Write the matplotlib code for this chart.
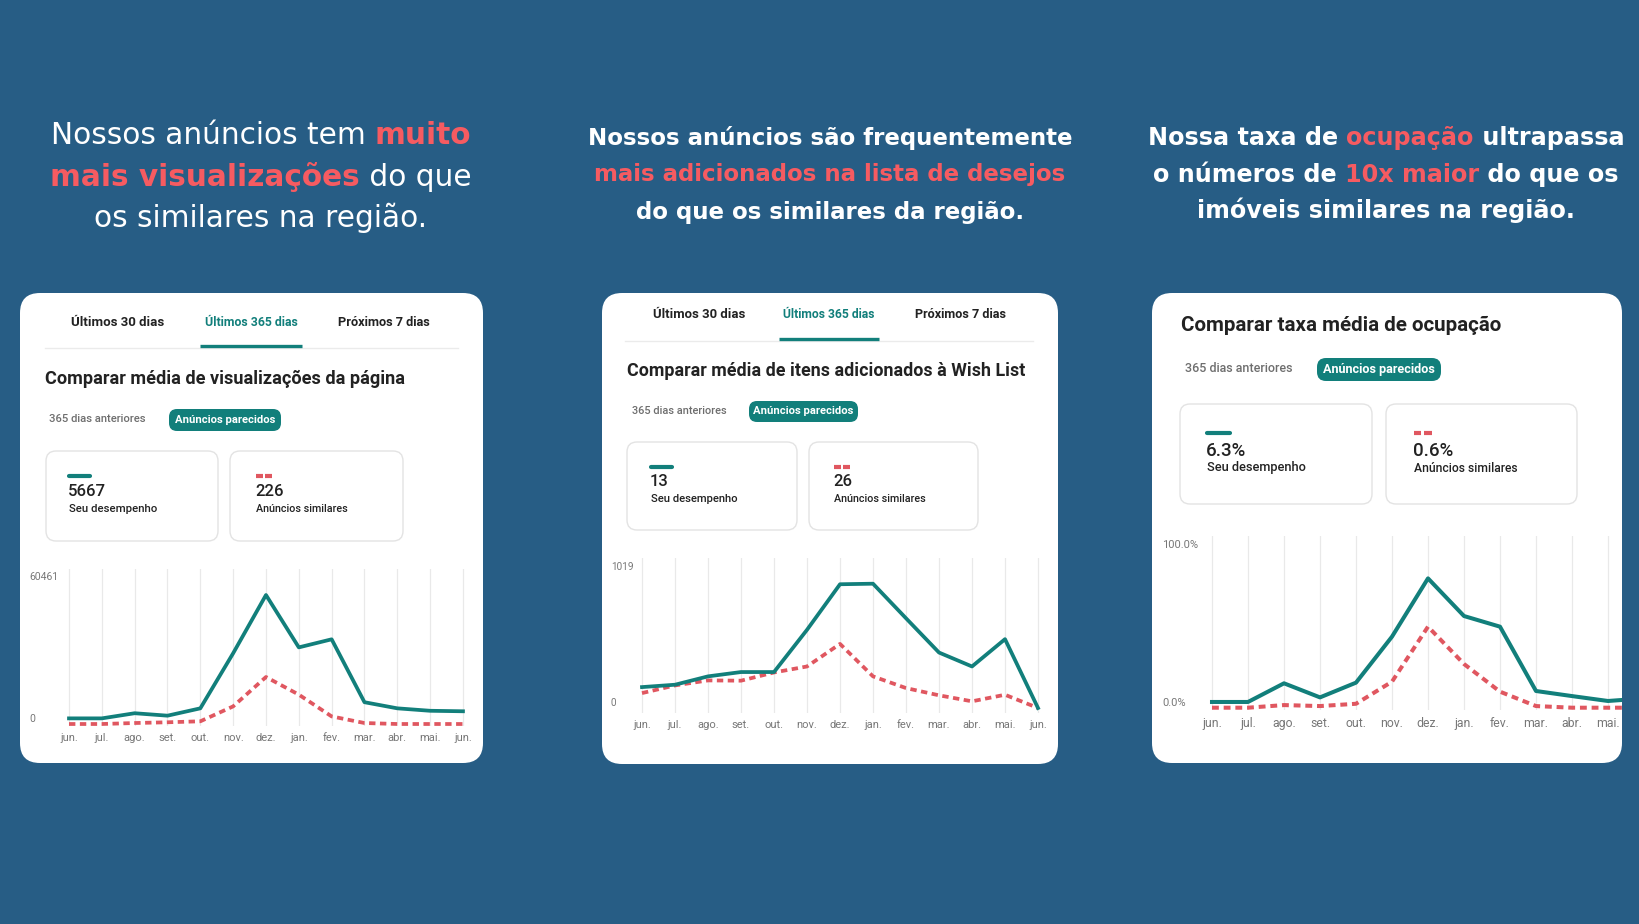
import matplotlib
matplotlib.use('Agg')
import matplotlib.pyplot as plt
from matplotlib.patches import FancyBboxPatch

W, H = 1640, 924
BG = '#275d85'
TEAL = '#127f7b'
RED = '#e05760'
CORAL = '#f65b61'
DARK = '#222222'
GRAY = '#6e6e6e'
HEAD_FONT = 'DejaVu Sans'
CARD_FONT = 'Roboto'

# rotulos do eixo x (meses)
meses = ['jun.', 'jul.', 'ago.', 'set.', 'out.', 'nov.', 'dez.',
         'jan.', 'fev.', 'mar.', 'abr.', 'mai.', 'jun.']

# visualizacoes da pagina
vis_seu = [2300, 2300, 4400, 3400, 6400, 28900, 52700, 31300, 34600, 8900, 6400, 5400, 5200]
vis_sim = [0, 0, 400, 700, 1100, 7200, 19200, 12000, 3100, 400, 0, 0, 0]
vis_max = 60461
vis_stats = ['5667', '226']

# itens adicionados a wish list
wish_seu = [150, 167, 227, 258, 258, 561, 888, 892, 644, 398, 298, 494, 0]
wish_sim = [107, 162, 198, 196, 255, 298, 460, 227, 143, 91, 48, 95, 0]
wish_max = 1019
wish_stats = ['13', '26']

# taxa de ocupacao (%)
ocup_seu = [3.5, 3.5, 14.9, 6.3, 15.3, 43.4, 79.0, 56.0, 49.5, 10.2, 7.1, 4.1, 5.7]
ocup_sim = [0, 0, 1.6, 1.0, 2.4, 15.9, 49.5, 26.7, 9.8, 1.0, 0, 0, 0]
ocup_max = 100
ocup_stats = ['6.3%', '0.6%']

tabs = ['Últimos 30 dias', 'Últimos 365 dias', 'Próximos 7 dias']

fig = plt.figure(figsize=(16.4, 9.24), dpi=100)
fig.patch.set_facecolor(BG)
bg = fig.add_axes([0, 0, 1, 1])
bg.set_xlim(0, W)
bg.set_ylim(H, 0)
bg.axis('off')
r = fig.canvas.get_renderer()


def text_w(s, **kw):
    t = bg.text(0, 0, s, **kw)
    w = t.get_window_extent(renderer=r).width
    t.remove()
    return w


def seg_w(s, **kw):
    return text_w('|' + s + '|', **kw) - text_w('||', **kw)


def fit(s, target, family=CARD_FONT, weight='normal'):
    return 10 * target / seg_w(s, fontsize=10, family=family, fontweight=weight)


def rich_line(cx, y, segs, size, family=HEAD_FONT):
    ws = [seg_w(s, fontsize=size, family=family, fontweight=wt) for s, c, wt in segs]
    x = cx - sum(ws) / 2
    for (s, c, wt), w in zip(segs, ws):
        bg.text(x, y, s, color=c, fontsize=size, fontweight=wt, family=family,
                ha='left', va='center')
        x += w


def header(cx, ys, lines, target):
    first = lines[0]
    w10 = sum(seg_w(s, fontsize=10, family=HEAD_FONT, fontweight=wt) for s, c, wt in first)
    size = 10 * target / w10
    for y, segs in zip(ys, lines):
        rich_line(cx, y, segs, size)


def rbox(x0, y0, x1, y1, rad, fc, ec='none', lw=0, z=1):
    bg.add_patch(FancyBboxPatch((x0, y0), x1 - x0, y1 - y0,
                                boxstyle=f'round,pad=0,rounding_size={rad}',
                                fc=fc, ec=ec, lw=lw, zorder=z))


def ctext(x, y, s, target, ha='left', color=DARK, weight='normal'):
    size = fit(s, target, weight=weight)
    bg.text(x, y, s, fontsize=size, color=color, fontweight=weight,
            family=CARD_FONT, ha=ha, va='center', zorder=5)
    return size


def stat_block(box, mark_y, mark_x, num_y, sub_y, value, sub, num_size, sub_target, dashed):
    x0, y0, x1, y1 = box
    rbox(x0, y0, x1, y1, 10, 'white', ec='#e3e3e3', lw=1.0, z=2)
    if dashed:
        seg = (mark_x[1] - mark_x[0]) / 2.4
        bg.plot([mark_x[0], mark_x[0] + seg], [mark_y] * 2, color=RED, lw=3, solid_capstyle='butt', zorder=4)
        bg.plot([mark_x[1] - seg, mark_x[1]], [mark_y] * 2, color=RED, lw=3, solid_capstyle='butt', zorder=4)
    else:
        bg.plot(mark_x, [mark_y] * 2, color=TEAL, lw=3, solid_capstyle='round', zorder=4)
    bg.text(mark_x[0] - 1, num_y, value, fontsize=num_size, color=DARK, family=CARD_FONT,
            fontweight='medium', ha='left', va='center', zorder=5)
    ctext(mark_x[0], sub_y, sub, sub_target, weight='medium')


def chart(box, first_px, step_px, zero_px, top_px, vmax, seu, sim, ylabels,
          label_x, fs_x, fs_y, lw):
    x0, y0, x1, y1 = box
    ax = fig.add_axes([x0 / W, 1 - y1 / H, (x1 - x0) / W, (y1 - y0) / H])
    ax.patch.set_visible(False)
    per = (zero_px - top_px) / vmax
    x = list(range(len(meses)))
    ax.plot(x, sim, color=RED, lw=lw, ls=(0, (1.7, 1.2)), dash_capstyle='butt', zorder=3)
    ax.plot(x, seu, color=TEAL, lw=lw, zorder=4)
    ax.set_xticks(x)
    ax.set_xticklabels(meses, fontsize=fs_x, color='#777777', family=CARD_FONT)
    ax.set_yticks([0, vmax])
    ax.set_yticklabels(ylabels, fontsize=fs_y, color='#777777', family=CARD_FONT)
    for lbl in ax.get_yticklabels():
        lbl.set_ha('left')
    # the zero label sits a little above the baseline in the app
    ax.get_yticklabels()[0].set_va('bottom')
    # limits set after the ticks so they are not expanded
    ax.set_xlim((x0 - first_px) / step_px, (x1 - first_px) / step_px)
    ax.set_ylim(-(y1 - zero_px) / per, (zero_px - y0) / per)
    ax.tick_params(axis='x', length=0, pad=5)
    ax.tick_params(axis='y', length=0, pad=(x0 - label_x) * 0.72)
    ax.grid(axis='x', color='#e9e9e9', lw=0.9)
    for s in ax.spines.values():
        s.set_visible(False)
    return ax


# ---------- cabecalhos ----------
w_ = 'white'
header(261, [136, 177, 218], [
    [('Nossos anúncios tem ', w_, 'normal'), ('muito', CORAL, 'bold')],
    [('mais visualizações', CORAL, 'bold'), (' do que', w_, 'normal')],
    [('os similares na região.', w_, 'normal')],
], 419)
header(830, [138, 175, 212], [
    [('Nossos anúncios são frequentemente', w_, 'bold')],
    [('mais adicionados na lista de desejos', CORAL, 'bold')],
    [('do que os similares da região.', w_, 'bold')],
], 485)
header(1386, [138, 175, 210], [
    [('Nossa taxa de ', w_, 'bold'), ('ocupação', CORAL, 'bold'), (' ultrapassa', w_, 'bold')],
    [('o números de ', w_, 'bold'), ('10x maior', CORAL, 'bold'), (' do que os', w_, 'bold')],
    [('imóveis similares na região.', w_, 'bold')],
], 478)

# ---------- cartao 1 ----------
rbox(20, 293, 483, 763, 20, 'white')
for cx, t in zip([118, 251, 384], tabs):
    ctext(cx, 322, t, 93, ha='center', color=TEAL if '365' in t else DARK, weight='bold')
bg.plot([45, 458], [348, 348], color='#ebebeb', lw=1, zorder=2)
bg.plot([200, 302], [346, 346], color=TEAL, lw=2.4, solid_capstyle='butt', zorder=3)
ctext(45, 379, 'Comparar média de visualizações da página', 361, weight='bold')
ctext(49, 419, '365 dias anteriores', 97, color=GRAY, weight='medium')
rbox(169, 409, 281, 431, 8, TEAL, z=2)
ctext(225, 420, 'Anúncios parecidos', 100, ha='center', color='white', weight='bold')
stat_block((46, 451, 218, 541), 476, [69, 90], 492, 509, vis_stats[0], 'Seu desempenho', 12, 88, False)
stat_block((230, 451, 403, 541), 476, [256, 272], 492, 509, vis_stats[1], 'Anúncios similares', 12, 92, True)
chart((60, 569, 472, 726), 69, 32.83, 724, 576, vis_max, vis_seu, vis_sim,
      ['0', str(vis_max)], 29, 8.0, 7.5, 2.7)

# ---------- cartao 2 ----------
rbox(602, 293, 1058, 764, 20, 'white')
for cx, t in zip([699, 829, 961], tabs):
    ctext(cx, 314, t, 92, ha='center', color=TEAL if '365' in t else DARK, weight='bold')
bg.plot([625, 1033], [341, 341], color='#ebebeb', lw=1, zorder=2)
bg.plot([779, 879], [339, 339], color=TEAL, lw=2.4, solid_capstyle='butt', zorder=3)
ctext(627, 371, 'Comparar média de itens adicionados à Wish List', 397, weight='bold')
ctext(632, 411, '365 dias anteriores', 95, color=GRAY, weight='medium')
rbox(749, 401, 858, 422, 8, TEAL, z=2)
ctext(803.5, 411.5, 'Anúncios parecidos', 100, ha='center', color='white', weight='bold')
stat_block((627, 442, 797, 530), 467, [651, 672], 482, 499, wish_stats[0], 'Seu desempenho', 12, 87, False)
stat_block((809, 442, 978, 530), 467, [834, 850], 482, 499, wish_stats[1], 'Anúncios similares', 12, 92, True)
chart((633, 558, 1047, 713), 642, 33, 708, 566, wish_max, wish_seu, wish_sim,
      ['0', str(wish_max)], 611, 8.0, 7.2, 2.7)

# ---------- cartao 3 ----------
rbox(1152, 293, 1622, 763, 20, 'white')
ctext(1181, 325, 'Comparar taxa média de ocupação', 321, weight='bold')
ctext(1185, 369, '365 dias anteriores', 108, color=GRAY, weight='medium')
rbox(1317, 358, 1441, 381, 9, TEAL, z=2)
ctext(1379, 369.5, 'Anúncios parecidos', 113, ha='center', color='white', weight='bold')
stat_block((1180, 404, 1372, 504), 433, [1207, 1230], 451, 468, ocup_stats[0], 'Seu desempenho', 13.5, 98, False)
stat_block((1386, 404, 1577, 504), 433, [1414, 1432], 451, 468, ocup_stats[1], 'Anúncios similares', 13.5, 104, True)
chart((1203, 536, 1622, 710), 1212, 36, 707.7, 544, ocup_max, ocup_seu, ocup_sim,
      ['0.0%', '100.0%'], 1162, 8.8, 8.0, 2.9)

fig.savefig('out.png', dpi=100, facecolor=BG)
